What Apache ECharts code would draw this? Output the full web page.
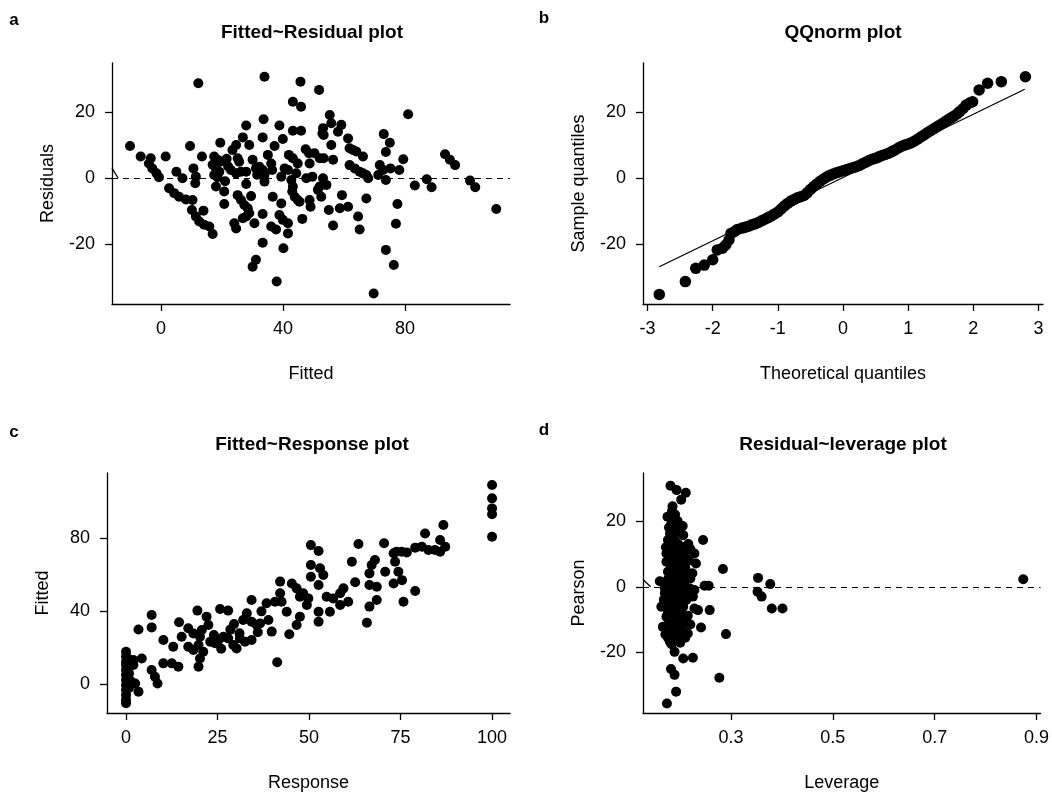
<!DOCTYPE html>
<html>
<head>
<meta charset="utf-8">
<script src="https://cdn.jsdelivr.net/npm/echarts@6/dist/echarts.min.js"></script>
<style>
html,body{margin:0;padding:0;background:#fff;}
#chart{width:1052px;height:794px;}
</style>
</head>
<body>
<div id="chart"></div>
<script>
// ---- Panel a: Fitted vs Residual ----
const fittedResidual = [
[-10.2,9.7],[-6.7,6.5],[-3.4,6.0],[-4.0,4.4],[-2.9,2.9],[-1.5,1.4],[-0.7,0.2],[1.5,6.5],[5.0,1.9],[7.0,-0.1],
[2.6,-3.1],[4.3,-4.6],[5.9,-5.7],[8.1,-6.5],[10.3,-6.7],[9.5,9.7],[10.6,2.9],[11.4,0.4],[11.2,-1.6],[10.1,-9.7],
[11.4,-11.7],[12.5,-13.2],[14.1,-14.2],[15.8,-14.7],[16.9,-17.0],[13.9,-9.9],[12.2,28.7],[13.4,6.5],
[17.4,6.5],[18.5,5.5],[19.6,5.0],[16.9,4.0],[18.0,2.9],[19.1,1.9],[17.4,0.9],[18.5,0.2],
[19.4,10.7],[18.0,-2.6],[20.7,-4.1],[20.7,-7.9],[23.4,8.5],[24.6,10.0],[25.1,6.0],[25.6,4.9],[22.9,2.4],[24.6,1.4],
[26.2,1.9],[27.9,1.9],[26.8,12.3],[28.9,10.0],[27.9,15.9],[27.9,-1.8],[25.1,-5.2],[26.2,-6.7],[27.3,-8.2],[28.4,-9.2],
[28.9,-10.7],[27.9,-11.7],[26.8,-12.2],[30.6,-13.7],[24.0,-13.7],[24.6,-15.3],[30.0,-26.9],[31.1,-24.8],[31.1,2.9],[32.2,3.4],
[33.3,2.4],[33.9,0.9],[33.3,12.3],[33.6,17.8],[33.9,30.7],[33.3,-10.9],[33.3,-19.6],[33.9,-1.1],[36.1,4.4],[36.4,2.4],
[37.2,9.7],[36.6,-5.7],[36.1,-14.7],[37.7,-15.6],[37.9,-31.4],[38.8,15.9],[39.9,11.8],[39.4,0.4],[40.5,2.9],[41.6,2.4],
[39.4,-7.7],[38.8,-11.2],[39.9,-12.7],[41.6,-13.7],[41.6,-16.8],[40.1,-21.3],[41.9,7.0],[43.2,6.0],[42.7,-0.6],[43.2,-2.6],
[43.0,-4.1],[43.8,-5.7],[44.8,-6.7],[45.4,-7.2],[43.2,23.1],[45.9,21.6],[43.2,14.3],[45.9,14.3],[44.3,1.4],[44.8,4.4],
[45.7,29.2],[46.3,-12.4],[47.4,8.7],[48.5,7.5],[48.7,4.4],[47.6,-0.1],[49.6,0.4],[48.7,-6.7],[49.0,-8.7],[50.3,7.5],
[52.0,6.0],[53.3,6.0],[51.4,-3.6],[52.5,-5.7],[52.0,-2.6],[51.8,26.7],[53.1,15.1],[52.9,13.5],[53.3,13.0],[53.1,-0.1],
[54.2,-2.1],[55.0,-9.7],[56.4,-14.4],[55.3,19.1],[55.8,16.6],[55.8,10.0],[56.4,5.5],[58.0,14.0],[59.1,16.1],[58.6,-9.2],
[61.3,-8.7],[59.3,-5.2],[61.3,12.0],[61.8,9.0],[62.9,8.5],[64.0,8.0],[66.2,6.5],[61.8,3.9],[63.5,2.9],[65.1,1.9],
[66.2,1.4],[67.3,0.9],[67.9,-0.1],[64.6,-11.7],[65.1,-15.6],[67.3,-6.2],[69.7,-35.0],[71.2,0.9],[71.7,3.9],[72.8,2.4],
[73.7,-0.6],[73.0,13.3],[75.0,10.7],[73.7,7.9],[73.7,-21.8],[76.3,-26.4],[75.2,2.9],[78.1,2.4],[77.0,-13.9],[77.5,-7.9],
[79.4,5.7],[81.0,19.3],[83.2,-2.3],[87.1,-0.4],[88.7,-2.8],[93.1,7.2],[94.7,5.5],[96.4,3.9],[101.3,-0.8],[103.0,-2.8],
[109.9,-9.4],[21.5,5.8],[22.0,3.5],[30.0,5.5],[31.5,1.0],[35.0,7.0],[29.5,-5.5],[21.0,-1.0]
];
const fittedTicks = [0, 40, 80];
const residTicks = [-20, 0, 20];

// ---- Panel b: QQ plot ----
const qqPoints = [
[-2.82,-35.3],[-2.42,-31.4],[-2.26,-27.4],[-2.13,-26.4],[-2.0,-24.8],[-1.93,-21.8],[-1.85,-21.3],[-1.80,-20.3],
[-1.75,-18.8],[-1.72,-16.8],[-1.67,-16.3],[-1.62,-15.6],
[-1.55,-15.2],[-1.5,-14.9],[-1.45,-14.6],[-1.4,-14.2],[-1.35,-13.9],[-1.3,-13.5],[-1.25,-13.0],[-1.2,-12.5],
[-1.15,-12.0],[-1.1,-11.5],[-1.05,-10.9],[-1.0,-10.3],[-0.95,-9.4],[-0.9,-8.5],[-0.85,-7.7],[-0.8,-7.0],
[-0.75,-6.5],[-0.7,-6.0],[-0.65,-5.7],[-0.6,-5.3],[-0.55,-4.5],[-0.5,-3.5],[-0.45,-2.6],[-0.4,-1.8],
[-0.35,-1.0],[-0.3,-0.3],[-0.25,0.3],[-0.2,0.8],[-0.15,1.2],[-0.1,1.6],[-0.05,1.9],[0.0,2.2],[0.05,2.5],
[0.1,2.8],[0.15,3.1],[0.2,3.4],[0.25,3.8],[0.3,4.3],[0.35,4.8],[0.4,5.3],[0.45,5.7],[0.5,6.0],[0.55,6.4],
[0.6,6.8],[0.65,7.1],[0.7,7.5],[0.75,8.0],[0.8,8.5],[0.85,9.1],[0.9,9.6],[0.95,10.0],[1.0,10.3],[1.05,10.7],
[1.1,11.2],[1.15,11.8],[1.2,12.5],[1.25,13.1],[1.3,13.8],[1.35,14.4],[1.4,15.0],[1.45,15.6],[1.5,16.2],
[1.55,16.8],[1.6,17.5],[1.65,18.1],[1.7,18.7],[1.75,19.4],[1.79,20.1],[1.84,21.0],[1.89,22.1],[1.95,22.8],
[1.99,23.1],[2.09,26.7],[2.22,28.7],[2.43,29.2],[2.8,30.7]
];
const qqLine = [[-2.82,-26.9],[2.79,26.9]];
const theoTicks = [-3, -2, -1, 0, 1, 2, 3];

// ---- Panel c: Response vs Fitted ----
const responseFitted = [
[0,17.9],[0,15.2],[0,12.4],[0,10.6],[0,7.9],[0,5.1],[0,2.4],[0,-0.4],[0,-3.1],[0,-5.8],[0,-8.6],[0,-10.4],
[2,13.3],[2,10.6],[4.3,14.2],[3.4,-4.0],[2.5,0.5],[7,7.9],[7.9,4.2],[8.6,0.5],[3.4,30.1],[7,38],[7,31.2],
[10.2,24.3],[12.9,20.6],[10.2,11.5],[12.5,11.5],[14.3,9.7],[14.5,34],[15.2,26.1],[17,30.7],[18.4,27.9],
[20.2,26.1],[20.7,29.8],[17,20.6],[18.4,18.8],[19.8,21.6],[21.1,17.9],[20.2,14.2],[19.8,9.7],[19.5,40.4],
[22,37.1],[22.5,32.5],[23,23.4],[24.3,22.5],[25.3,24.3],[26.6,26.1],[27.9,25.2],[29.3,21.6],[30.2,19.7],
[31.1,25.2],[32.5,23.4],[34.3,24.3],[25.7,41.3],[27.9,40.4],[32,35.3],[33,38.9],[34.3,34.3],[35.7,32.5],
[36.6,33.4],[34.3,46.2],[38.4,44.4],[38.9,35.3],[39.8,28.9],[40.7,45.3],[42.1,49.9],[42.5,45.3],[41.3,12.1],
[42.1,56.3],[44.6,27.4],[43.9,39.8],[45.3,55.3],[46.6,52.6],[47.5,48],[48.4,49.9],[49.4,43.5],[49.8,47.1],
[46.6,32.5],[47.5,37.1],[50.5,76.3],[52.6,73.1],[50.5,65.4],[53,63.6],[50.5,59],[52.6,54.4],[52.6,39.8],
[52.6,34.3],[53.9,59.9],[54.8,48],[55.7,39.8],[56.6,47.1],[58.5,49.9],[59.4,52.6],[58.5,43.5],[60.7,45.3],
[61.7,67.2],[62.6,55.9],[63.5,76.9],[65.8,33.8],[66.5,42.6],[66.5,54.4],[66.5,60.8],[67.1,65.4],[68,68.1],
[68.5,53.5],[68.5,46.2],[70.5,77.3],[70.8,61.7],[73.1,71.8],[73.5,67.2],[73.1,55.3],[75.4,57.1],[74.4,61.7],
[75.8,45.3],[73.9,72.7],[75.3,72.7],[76.7,72.3],[79,51.1],[79,74.9],[80.8,75.4],[81.7,82.7],[82.6,73.6],
[84.4,73.6],[85.8,79.1],[85.8,72.7],[86.7,87.3],[87.2,75.4],[100,109.2],[100,101.9],[100,96.4],[100,93.2],
[100,80.9],[24,27],[26,19.5],[28.5,30],[31,28],[36,28.5],[37,40],[29.5,33],[0.8,6],[0.8,-2],[1.2,2],[0.6,14]
];
const responseTicks = [0, 25, 50, 75, 100];
const fittedYTicks = [0, 40, 80];

// ---- Panel d: Leverage vs Pearson residual ----
const leveragePearson = [
[0.181,30.7],[0.193,29.4],[0.211,28.6],[0.202,26.5],[0.184,23.0],[0.175,21.3],[0.183,19.3],[0.189,17.7],
[0.180,16.2],[0.196,16.7],[0.206,15.7],[0.245,14.2],[0.176,14.2],[0.173,10.1],[0.183,12.7],[0.202,12.2],
[0.209,9.6],[0.196,10.6],[0.228,10.1],[0.231,7.1],[0.224,4.1],[0.173,7.6],[0.183,6.6],[0.193,5.6],[0.202,7.6],
[0.209,4.6],[0.176,4.6],[0.186,3.0],[0.199,2.5],[0.215,3.5],[0.284,5.4],[0.160,1.7],[0.170,0.5],[0.189,0],
[0.206,1.0],[0.219,-0.5],[0.228,-1.0],[0.248,0.3],[0.256,0.3],[0.353,2.7],[0.377,0.8],[0.352,-1.5],[0.360,-3.0],
[0.380,-6.6],[0.401,-6.6],[0.874,2.3],[0.170,-2.0],[0.183,-3.0],[0.193,-3.5],[0.225,-3.0],[0.163,-6.1],
[0.176,-5.6],[0.189,-6.6],[0.206,-6.1],[0.228,-6.6],[0.235,-7.1],[0.258,-7.1],[0.173,-9.1],[0.186,-9.6],
[0.202,-10.1],[0.209,-10.6],[0.166,-12.2],[0.176,-12.7],[0.189,-13.7],[0.199,-12.7],[0.215,-14.2],[0.241,-12.4],
[0.290,-14.4],[0.180,-16.7],[0.193,-15.7],[0.189,-19.8],[0.206,-21.8],[0.225,-21.6],[0.277,-27.7],[0.182,-25.0],
[0.189,-26.8],[0.192,-31.9],[0.174,-35.5],
[0.178,18],[0.19,14],[0.2,8.5],[0.18,9],[0.19,2],[0.178,-1],[0.2,-2],[0.19,-4.5],[0.185,-8],[0.198,-8],
[0.178,-11],[0.195,-11],[0.205,-13],[0.171,-14.5],[0.185,-15],[0.2,-17],[0.21,5.8],[0.195,20],[0.205,18.5],
[0.188,11],[0.168,-4],[0.215,-8.8],[0.22,-11.5],[0.2,-4.8],[0.21,1.8],[0.216,13],[0.185,24.5],[0.172,12],
[0.17,-0.5],[0.217,8],
[0.18,21.5],[0.19,22],[0.2,17.5],[0.186,15],[0.196,13],[0.176,11],[0.19,8.5],[0.18,7],[0.196,6.5],[0.205,10.5],
[0.186,4.5],[0.176,2.3],[0.196,4],[0.183,1],[0.196,0.5],[0.21,-1.5],[0.18,-4],[0.192,-2],[0.176,-8],[0.193,-6.5],
[0.2,-7.5],[0.182,-10],[0.19,-9],[0.2,-12],[0.18,-13.5],[0.19,-11.5],[0.196,-14.5],[0.176,-15.5],[0.183,-17.5],
[0.21,-15.5],[0.212,-4],[0.22,2.5],[0.22,11.5]
];
const leverageTicks = [0.3, 0.5, 0.7, 0.9];
const pearsonTicks = [-20, 0, 20];

const FONT = '"Liberation Sans", Arial, Helvetica, sans-serif';

function mkAxis(gridIndex, min, max, ticks, name, nameGap, isY) {
  return {
    type: 'value', gridIndex, min, max,
    name, nameLocation: 'middle', nameGap,
    nameTextStyle: { color: '#000', fontSize: 18, fontFamily: FONT },
    axisLine: { show: true, onZero: false, lineStyle: { color: '#000', width: 1.3 } },
    axisTick: { show: true, inside: false, length: 7, customValues: ticks, lineStyle: { color: '#000', width: 1.3 } },
    axisLabel: { show: true, customValues: ticks, margin: isY ? 17 : 16, color: '#000', fontSize: 18, fontFamily: FONT },
    splitLine: { show: false }
  };
}

// dashed zero reference line plus the short "\" break stroke where it meets the y axis
function zeroLine(xmin, dx, dy) {
  return {
    silent: true, animation: false, symbol: ['none', 'none'],
    lineStyle: { color: '#000', width: 1.2, type: [6, 5] },
    label: { show: false },
    data: [
      { yAxis: 0 },
      [
        { coord: [xmin, dy], lineStyle: { type: 'solid', width: 1.3, color: '#000' } },
        { coord: [xmin + dx, 0] }
      ]
    ]
  };
}

const aX = [-16.1, 114.4], aY = [-38.2, 34.85];
const bX = [-3.07, 3.07];
const cX = [-5.2, 104.9], cY = [-15.7, 115.8];
const dX = [0.127, 0.908], dY = [-38.4, 34.6];

const option = {
  animation: false,
  backgroundColor: '#ffffff',
  grid: [
    { left: 112, top: 63, width: 398, height: 241 },
    { left: 643, top: 63, width: 400, height: 241 },
    { left: 107, top: 473, width: 403, height: 240 },
    { left: 643, top: 473, width: 400, height: 240 }
  ],
  xAxis: [
    mkAxis(0, aX[0], aX[1], fittedTicks, 'Fitted', 61, false),
    mkAxis(1, bX[0], bX[1], theoTicks, 'Theoretical quantiles', 61, false),
    mkAxis(2, cX[0], cX[1], responseTicks, 'Response', 61, false),
    mkAxis(3, dX[0], dX[1], leverageTicks, 'Leverage', 61, false)
  ],
  yAxis: [
    mkAxis(0, aY[0], aY[1], residTicks, 'Residuals', 55, true),
    mkAxis(1, aY[0], aY[1], residTicks, 'Sample quantiles', 55, true),
    mkAxis(2, cY[0], cY[1], fittedYTicks, 'Fitted', 55, true),
    mkAxis(3, dY[0], dY[1], pearsonTicks, 'Pearson', 55, true)
  ],
  series: [
    { type: 'scatter', xAxisIndex: 0, yAxisIndex: 0, data: fittedResidual, symbolSize: 10,
      itemStyle: { color: '#000', opacity: 1 }, markLine: zeroLine(aX[0], 2.0, 3.0) },
    { type: 'scatter', xAxisIndex: 1, yAxisIndex: 1, data: qqPoints, symbolSize: 11.5,
      itemStyle: { color: '#000', opacity: 1 } },
    { type: 'line', xAxisIndex: 1, yAxisIndex: 1, data: qqLine, symbol: 'none',
      lineStyle: { color: '#000', width: 1.3 } },
    { type: 'scatter', xAxisIndex: 2, yAxisIndex: 2, data: responseFitted, symbolSize: 10,
      itemStyle: { color: '#000', opacity: 1 } },
    { type: 'scatter', xAxisIndex: 3, yAxisIndex: 3, data: leveragePearson, symbolSize: 10,
      itemStyle: { color: '#000', opacity: 1 }, markLine: zeroLine(dX[0], 0.015, 2.2) }
  ],
  graphic: [
    { type: 'text', x: 14, y: 20, style: { text: 'a', align: 'center', verticalAlign: 'middle', font: 'bold 17px ' + FONT, fill: '#000' } },
    { type: 'text', x: 544, y: 18, style: { text: 'b', align: 'center', verticalAlign: 'middle', font: 'bold 17px ' + FONT, fill: '#000' } },
    { type: 'text', x: 14, y: 432, style: { text: 'c', align: 'center', verticalAlign: 'middle', font: 'bold 17px ' + FONT, fill: '#000' } },
    { type: 'text', x: 544, y: 430, style: { text: 'd', align: 'center', verticalAlign: 'middle', font: 'bold 17px ' + FONT, fill: '#000' } },
    { type: 'text', x: 312, y: 33, style: { text: 'Fitted~Residual plot', align: 'center', verticalAlign: 'middle', font: 'bold 19px ' + FONT, fill: '#000' } },
    { type: 'text', x: 843, y: 33, style: { text: 'QQnorm plot', align: 'center', verticalAlign: 'middle', font: 'bold 19px ' + FONT, fill: '#000' } },
    { type: 'text', x: 312, y: 445, style: { text: 'Fitted~Response plot', align: 'center', verticalAlign: 'middle', font: 'bold 19px ' + FONT, fill: '#000' } },
    { type: 'text', x: 843, y: 445, style: { text: 'Residual~leverage plot', align: 'center', verticalAlign: 'middle', font: 'bold 19px ' + FONT, fill: '#000' } }
  ]
};

const chart = echarts.init(document.getElementById('chart'), null, { renderer: 'canvas' });
chart.setOption(option);
</script>
</body>
</html>
